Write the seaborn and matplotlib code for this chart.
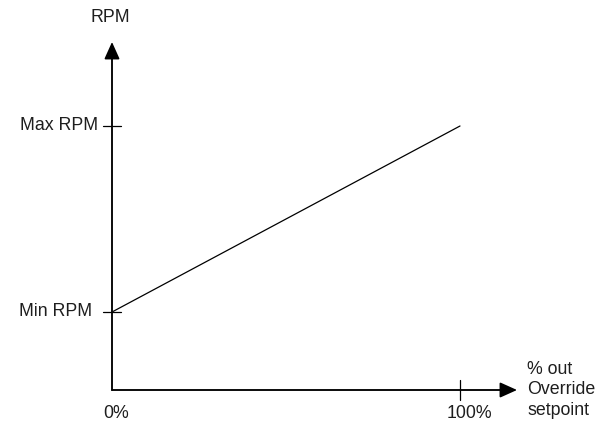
import numpy as np
import pandas as pd
import matplotlib
matplotlib.use("Agg")
import matplotlib.pyplot as plt
import seaborn as sns

sns.set_style("white")
plt.rcParams['font.family'] = ['Liberation Sans', 'DejaVu Sans']

# data: override output (%) vs fan speed (0 = Min RPM, 1 = Max RPM)
override_pct = [0, 100]
rpm_level = [0, 1]
y_ticks = [0, 1]
y_tick_labels = ['Min RPM', 'Max RPM']
x_ticks = [0, 100]
x_tick_labels = ['0%', '100%']

df = pd.DataFrame({'override': override_pct, 'rpm': rpm_level})

fig = plt.figure(figsize=(6.08, 4.25), dpi=100)
ax = fig.add_axes([0, 0, 1, 1])

# map data to the picture: 0..100% -> px 112..460, Min..Max -> px 312..126
px_per_pct = 3.48
px_per_rpm = 186
ax.set_xlim(-112 / px_per_pct, (608 - 112) / px_per_pct)
ax.set_ylim(-(425 - 312) / px_per_rpm, 312 / px_per_rpm)
ax.axis('off')

sns.lineplot(data=df, x='override', y='rpm', ax=ax, color='black', lw=0.9)

axis_col = '#4a4a4a'
txt_col = '#1e1e1e'
fs = 12.8
y_bottom = -(390 - 312) / px_per_rpm
y_top = (312 - 42) / px_per_rpm
x_right = (517 - 112) / px_per_pct

arrow = dict(arrowstyle='-|>,head_length=1.0,head_width=0.45', color='black',
             lw=1.2, mutation_scale=10.5, shrinkA=0, shrinkB=0)
ax.annotate('', xy=(0, y_top), xytext=(0, y_bottom), arrowprops=arrow)
ax.annotate('', xy=(x_right, y_bottom), xytext=(0, y_bottom), arrowprops=arrow)
ax.plot([0, 0], [y_bottom, y_top - 0.05], color=axis_col, lw=1.2)
ax.plot([0, x_right - 3], [y_bottom, y_bottom], color=axis_col, lw=1.2)

# tick marks crossing the axes
tick_dx = 9 / px_per_pct
tick_dy = 10 / px_per_rpm
label_gap = {0: 20, 1: 14}  # px between axis and label right edge
for yv, lab in zip(y_ticks, y_tick_labels):
    ax.plot([-tick_dx, tick_dx], [yv, yv], color='black', lw=0.9)
    ax.text(-label_gap[yv] / px_per_pct, yv, lab, ha='right', va='center',
            fontsize=fs, color=txt_col)
label_shift = {0: 4, 100: 9}  # px right of tick
for xv, lab in zip(x_ticks, x_tick_labels):
    if xv != 0:
        ax.plot([xv, xv], [y_bottom - tick_dy, y_bottom + tick_dy], color='black', lw=0.9)
    ax.text(xv + label_shift[xv] / px_per_pct, -(414 - 312) / px_per_rpm, lab,
            ha='center', va='center', fontsize=fs, color=txt_col)

ax.text(-2 / px_per_pct, (312 - 17) / px_per_rpm, 'RPM', ha='center', va='center',
        fontsize=fs, color=txt_col)
ax.text((527 - 112) / px_per_pct, y_bottom, '% out\nOverride\nsetpoint',
        ha='left', va='center', fontsize=fs, color=txt_col, linespacing=1.3)

fig.savefig('out.png', dpi=100)
